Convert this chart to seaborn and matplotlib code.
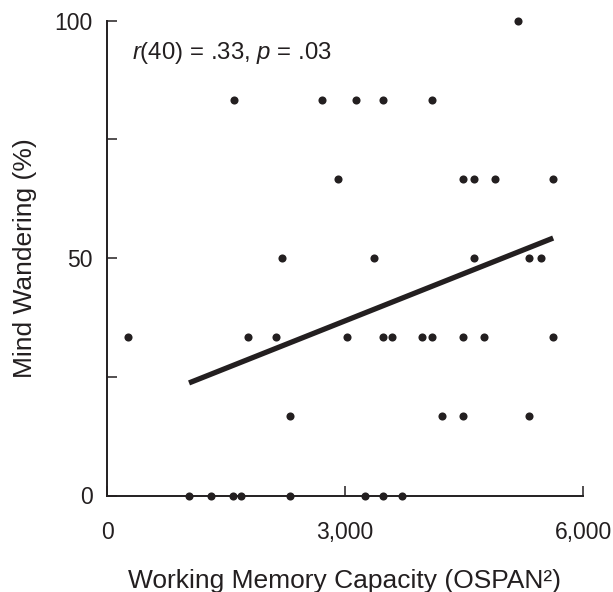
import numpy as np
import pandas as pd
import seaborn as sns
import matplotlib.pyplot as plt

sns.set_theme(style="ticks")
plt.rcParams["font.family"] = ["Liberation Sans", "DejaVu Sans"]
plt.rcParams["mathtext.fontset"] = "custom"
plt.rcParams["mathtext.it"] = "Liberation Sans:italic"
plt.rcParams["mathtext.rm"] = "Liberation Sans"

INK = "#231f20"

# OSPAN score and mind-wandering rate, grouped by y level
ospan = [5183,
         1601, 2711, 3140, 3480, 4098,
         2913, 4489, 4628, 4893, 5624,
         2207, 3367, 4628, 5322, 5473,
         265, 1778, 2131, 3026, 3480, 3594, 3972, 4098, 4489, 4754, 5624,
         2308, 4224, 4489, 5322,
         1034, 1311, 1589, 1690, 2308, 3253, 3480, 3720]
mind_wandering = [100,
                  83.3, 83.3, 83.3, 83.3, 83.3,
                  66.7, 66.7, 66.7, 66.7, 66.7,
                  50, 50, 50, 50, 50,
                  33.3, 33.3, 33.3, 33.3, 33.3, 33.3, 33.3, 33.3, 33.3, 33.3, 33.3,
                  16.7, 16.7, 16.7, 16.7,
                  0, 0, 0, 0, 0, 0, 0, 0]

# fitted regression line as drawn in the figure
fit_x = [1034, 5624]
fit_y = [23.7, 54.2]

df = pd.DataFrame({"ospan": ospan, "mw": mind_wandering})
fit = pd.DataFrame({"ospan": fit_x, "mw": fit_y})

fig = plt.figure(figsize=(6.13, 5.92), dpi=100)
ax = fig.add_axes([107 / 613, 1 - 495.5 / 592, 476 / 613, 475 / 592])

sns.lineplot(data=fit, x="ospan", y="mw", color=INK, linewidth=3.8,
             solid_capstyle="butt", ax=ax)
sns.scatterplot(data=df, x="ospan", y="mw", color=INK, s=34, linewidth=0,
                clip_on=False, zorder=5, ax=ax)

ax.set_xlim(0, 6000)
ax.set_ylim(0, 100)
ax.set_xticks([0, 3000, 6000])
ax.set_xticklabels(["0", "3,000", "6,000"])
ax.set_yticks([0, 25, 50, 75, 100])
ax.set_yticklabels(["0", "", "50", "", "100"])
ax.tick_params(axis="x", direction="in", length=7.5, width=1.1, colors=INK,
               labelsize=16.5, pad=18.5)
ax.tick_params(axis="y", direction="in", length=7.5, width=1.1, colors=INK,
               labelsize=16.5, pad=10.5)
sns.despine(ax=ax)
for side in ["left", "bottom"]:
    ax.spines[side].set_linewidth(1.4)
    ax.spines[side].set_color(INK)

ax.set_xlabel("Working Memory Capacity (OSPAN\u00b2)", fontsize=19, color=INK,
              labelpad=18)
ax.set_ylabel("Mind Wandering (%)", fontsize=19, color=INK, labelpad=12)

ax.text(0.052, 0.958, "$r$(40) = .33, $p$ = .03", transform=ax.transAxes,
        fontsize=17.3, color=INK, va="top", ha="left")

fig.savefig("out.png", dpi=100, facecolor="white")
